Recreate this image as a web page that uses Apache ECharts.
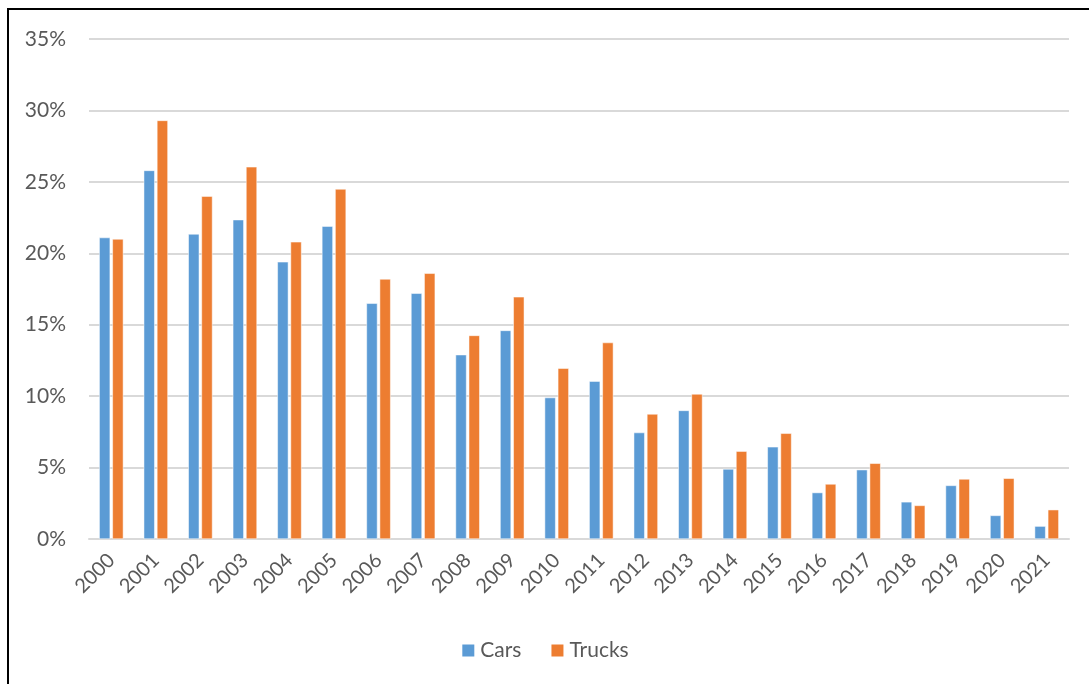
<!DOCTYPE html>
<html>
<head>
<meta charset="utf-8">
<script src="https://cdn.jsdelivr.net/npm/echarts@6/dist/echarts.min.js"></script>
<style>
  html, body { margin: 0; padding: 0; background: #fff; }
  #chart { width: 1089px; height: 684px; }
  #frame {
    position: absolute; left: 7px; top: 8px; width: 1100px; height: 700px;
    border-left: 2px solid #000; border-top: 2px solid #000; pointer-events: none;
  }
</style>
</head>
<body>
<div id="chart"></div>
<div id="frame"></div>
<script>
// years on the x axis
const years = ['2000', '2001', '2002', '2003', '2004', '2005', '2006', '2007', '2008', '2009', '2010',
  '2011', '2012', '2013', '2014', '2015', '2016', '2017', '2018', '2019', '2020', '2021'];

// percent values
const cars = [21.1, 25.8, 21.35, 22.35, 19.4, 21.9, 16.5, 17.2, 12.9, 14.6, 9.9,
  11.05, 7.45, 9.0, 4.9, 6.45, 3.25, 4.85, 2.6, 3.75, 1.65, 0.9];
const trucks = [21.0, 29.3, 24.0, 26.05, 20.8, 24.5, 18.2, 18.6, 14.25, 16.95, 11.95,
  13.75, 8.75, 10.15, 6.15, 7.4, 3.85, 5.3, 2.35, 4.2, 4.25, 2.05];

const font = 'Lato, "Open Sans", sans-serif';
const chart = echarts.init(document.getElementById('chart'));

chart.setOption({
  animation: false,
  textStyle: { fontFamily: font },
  grid: { left: 89, right: 20, top: 39, bottom: 145, containLabel: false },
  legend: {
    bottom: 18,
    left: 'center',
    itemWidth: 14,
    itemHeight: 14,
    itemGap: 28,
    icon: 'rect',
    textStyle: { fontSize: 21, color: '#595959', fontFamily: font },
    data: ['Cars', 'Trucks']
  },
  xAxis: {
    type: 'category',
    data: years,
    axisLine: { lineStyle: { color: '#d9d9d9', width: 2 } },
    axisTick: { show: false },
    axisLabel: { rotate: 45, fontSize: 20, color: '#595959', margin: 18, interval: 0 }
  },
  yAxis: {
    type: 'value',
    min: 0,
    max: 35,
    interval: 5,
    axisLine: { show: false },
    axisTick: { show: false },
    axisLabel: { formatter: '{value}%', fontSize: 21, color: '#595959', margin: 23 },
    splitLine: { lineStyle: { color: '#d9d9d9', width: 2 } }
  },
  series: [
    {
      name: 'Cars',
      type: 'bar',
      data: cars,
      barWidth: 11,
      barGap: '20%',
      itemStyle: { color: '#5b9bd5', borderColor: '#fff', borderWidth: 0.5 }
    },
    {
      name: 'Trucks',
      type: 'bar',
      data: trucks,
      barWidth: 11,
      barGap: '20%',
      itemStyle: { color: '#ed7d31', borderColor: '#fff', borderWidth: 0.5 }
    }
  ]
});
</script>
</body>
</html>
